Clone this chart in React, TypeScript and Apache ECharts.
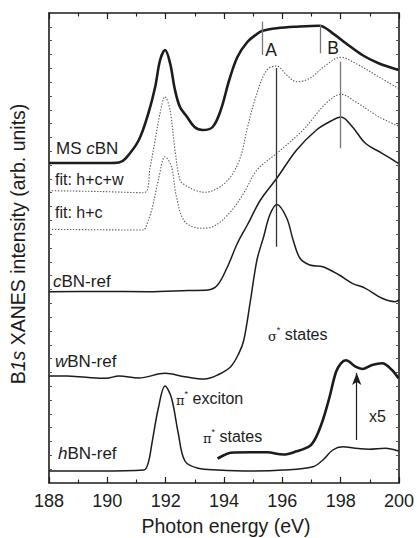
import React, { useEffect, useRef } from "react";
import * as echarts from "echarts";

// Photon energy (eV) / intensity (arb. units, offset spectra)
const msCBN: number[][] = [
  [188.0, 320], [190.0, 320], [190.4, 320.5], [190.63, 324.7], [191.08, 343], [191.41, 370],
  [191.64, 396], [191.81, 423], [191.98, 433], [192.15, 420], [192.32, 393], [192.49, 376],
  [192.71, 367], [192.99, 356], [193.27, 353], [193.61, 356], [193.89, 373], [194.18, 403],
  [194.46, 426], [194.8, 441], [195.13, 449], [195.3, 452], [195.81, 454.7], [196.49, 456.3],
  [197.27, 457.3], [197.73, 449.7], [198.18, 439.7], [198.74, 428], [199.3, 419.7], [199.98, 413],
];

const fitHCW: number[][] = [
  [188.0, 292.3], [189.72, 291.5], [191.25, 290.3], [191.47, 316.3], [191.64, 343], [191.81, 370],
  [191.98, 386.3], [192.15, 373], [192.32, 333], [192.49, 303], [192.66, 298], [192.99, 293],
  [193.33, 290.7], [193.78, 294.7], [194.23, 306.3], [194.57, 326.3], [194.8, 355], [195.13, 389.7],
  [195.47, 413], [195.81, 417], [196.15, 408], [196.49, 401.3], [196.94, 404.7], [197.5, 418],
  [198.01, 425.7], [198.51, 419.7], [199.3, 406.3], [199.98, 394.7],
];

const fitHC: number[][] = [
  [188.0, 253.7], [191.25, 253], [191.3, 254.7], [191.52, 273], [191.75, 303], [191.98, 326.3],
  [192.2, 316.3], [192.37, 286.3], [192.66, 261.3], [193.22, 254.7], [193.67, 257], [194.22, 271],
  [194.68, 290], [195.13, 313], [195.81, 329.7], [196.71, 353], [197.5, 379.7], [198.01, 388.7],
  [198.51, 381.3], [199.3, 366.3], [199.98, 357],
];

const cbnRef: number[][] = [
  [188.0, 191.3], [189.72, 191.5], [191.41, 191.3], [192.77, 192.5], [193.44, 193], [193.78, 198],
  [194.12, 216.3], [194.46, 239.7], [194.8, 258], [195.25, 283], [195.81, 304.7], [196.49, 333],
  [197.17, 353], [197.67, 362], [198.01, 366], [198.4, 356.3], [198.85, 339.7], [199.42, 329.7],
  [199.98, 319.7],
];

const wbnRef: number[][] = [
  [188.0, 107], [188.6, 107], [189.27, 105.7], [189.95, 104.7], [190.4, 107], [191.08, 105],
  [191.98, 109.7], [192.66, 106.3], [193.33, 104], [193.78, 108], [194.23, 116.3], [194.51, 129.7],
  [194.68, 143], [194.91, 183], [195.13, 223], [195.36, 246.3], [195.57, 268], [195.81, 278.5],
  [196.15, 265], [196.37, 243], [196.6, 225], [196.94, 218], [197.39, 216.3], [197.95, 208],
  [198.4, 199.7], [198.85, 194.7], [199.42, 184.7], [199.86, 181.3], [200.0, 183],
];

const hbnRef: number[][] = [
  [188.0, 12], [189.72, 12], [191.25, 13], [191.41, 21], [191.52, 38], [191.75, 75],
  [191.98, 97], [192.2, 85], [192.43, 50], [192.66, 22], [193.11, 14.7], [193.78, 13],
  [194.91, 12], [196.04, 13], [197.05, 16.3], [197.39, 23], [197.73, 33], [198.07, 36.3],
  [198.51, 34.7], [198.97, 33.7], [199.53, 34.7], [199.98, 32],
];

const hbnX5: number[][] = [
  [193.78, 24.5], [194.01, 28], [194.23, 30.3], [194.91, 30.7], [195.47, 30.7], [196.04, 28.5],
  [196.49, 31.7], [196.94, 37], [197.16, 46], [197.39, 63], [197.61, 85], [197.84, 111],
  [198.01, 119.7], [198.18, 122.7], [198.51, 116.3], [198.74, 114], [199.08, 118], [199.42, 119.7],
  [199.76, 113], [199.98, 104.7],
];

// annotation lines: [x, y0, y1]
const markA: number[] = [195.3, 428, 461.3];
const markB: number[] = [197.3, 429.7, 458];
const lineA: number[] = [195.79, 236.3, 415];
const lineB: number[] = [197.99, 334.7, 421.3];
const arrowX5: number[] = [198.55, 43, 110];

const X_MIN = 188;
const X_MAX = 200;
const Y_MAX = 470;

const FONT = "Liberation Sans, Arial, sans-serif";
const SERIF = "DejaVu Serif, serif";
const INK = "#1c1c1c";

function vline(v: number[], color: string, width: number, arrow = false) {
  return {
    animation: false,
    symbol: arrow ? ["none", "arrow"] : ["none", "none"],
    symbolSize: arrow ? [7, 12] : 0,
    lineStyle: { color, width, type: "solid" },
    label: { show: false },
    emphasis: { disabled: true },
    data: [[{ coord: [v[0], v[1]] }, { coord: [v[0], v[2]] }]],
  };
}

export default function App() {
  const ref = useRef<HTMLDivElement>(null);

  useEffect(() => {
    if (!ref.current) return;
    const chart = echarts.init(ref.current, undefined, { renderer: "svg" });

    const axisCommon = {
      type: "value" as const,
      min: X_MIN,
      max: X_MAX,
      interval: 2,
      axisLine: { show: true, onZero: false, lineStyle: { color: INK, width: 1.6 } },
      axisTick: { show: true, inside: true, length: 6, lineStyle: { color: INK, width: 1.2 } },
      minorTick: { show: true, splitNumber: 2, length: 3.5, lineStyle: { color: INK, width: 1.1 } },
      splitLine: { show: false },
    };
    const yCommon = {
      type: "value" as const,
      min: 0,
      max: Y_MAX,
      interval: Y_MAX / 34,
      axisLine: { show: true, onZero: false, lineStyle: { color: INK, width: 1.6 } },
      axisTick: { show: true, inside: true, length: 3, lineStyle: { color: "#555", width: 1 } },
      axisLabel: { show: false },
      splitLine: { show: false },
    };

    const mkLine = (data: number[][], width: number, dotted = false) => ({
      type: "line",
      data,
      showSymbol: false,
      smooth: 0.35,
      silent: true,
      lineStyle: dotted
        ? { color: "#5a5a5a", width: 1.1, type: [1.4, 1.6] }
        : { color: INK, width },
      z: 3,
    });

    const text = (x: number, y: number, t: string, size: number, opts: any = {}) => ({
      type: "text",
      x,
      y,
      silent: true,
      style: {
        text: t,
        fontSize: size,
        fontFamily: FONT,
        fill: INK,
        textVerticalAlign: "middle",
        ...opts,
      },
    });

    const richLabel = (x: number, y: number, italic: string, rest: string, pre = "") => ({
      type: "text",
      x,
      y,
      silent: true,
      style: {
        text: (pre ? `{n|${pre}}` : "") + `{i|${italic}}{n|${rest}}`,
        textVerticalAlign: "middle",
        rich: {
          n: { fontSize: 17, fontFamily: FONT, fill: INK },
          i: { fontSize: 17, fontFamily: FONT, fontStyle: "italic", fill: INK },
        },
      },
    });

    // Greek letter + superscript asterisk + words, in one text element
    const stateLabel = (x: number, y: number, greek: string, words: string) => ({
      type: "text",
      x,
      y,
      silent: true,
      style: {
        text: `{g|${greek}}{s|*}{n| ${words}}`,
        textVerticalAlign: "middle",
        rich: {
          g: { fontSize: 13, fontFamily: SERIF, fill: INK, verticalAlign: "bottom", lineHeight: 18 },
          s: { fontSize: 9, fontFamily: FONT, fill: INK, verticalAlign: "top", lineHeight: 18 },
          n: { fontSize: 16, fontFamily: FONT, fill: INK, verticalAlign: "middle", lineHeight: 18 },
        },
      },
    });

    chart.setOption({
      animation: false,
      grid: { left: 49, right: 13, top: 13, bottom: 55, containLabel: false },
      xAxis: [
        {
          ...axisCommon,
          position: "bottom",
          axisLabel: { show: true, fontSize: 18, fontFamily: FONT, color: INK, margin: 9 },
        },
        { ...axisCommon, position: "top", axisLabel: { show: false } },
      ],
      yAxis: [
        { ...yCommon, position: "left" },
        { ...yCommon, position: "right" },
      ],
      series: [
        mkLine(msCBN, 2.6),
        mkLine(fitHCW, 1.1, true),
        mkLine(fitHC, 1.1, true),
        mkLine(cbnRef, 1.5),
        mkLine(wbnRef, 1.5),
        mkLine(hbnRef, 1.5),
        mkLine(hbnX5, 2.6),
        { type: "line", data: [], silent: true, markLine: vline(markA, "#777", 1.3) },
        { type: "line", data: [], silent: true, markLine: vline(markB, "#777", 1.3) },
        { type: "line", data: [], silent: true, markLine: vline(lineA, "#333", 1.3) },
        { type: "line", data: [], silent: true, markLine: vline(lineB, "#777", 1.3) },
        { type: "line", data: [], silent: true, markLine: vline(arrowX5, INK, 1.2, true) },
      ],
      graphic: [
        text(226, 526, "Photon energy (eV)", 19.5, { textAlign: "center" }),
        {
          type: "text",
          x: 18,
          y: 244,
          rotation: Math.PI / 2,
          silent: true,
          style: {
            text: "{n|B}{i|1s}{n| XANES intensity (arb. units)}",
            textAlign: "center",
            textVerticalAlign: "middle",
            rich: {
              n: { fontSize: 19.5, fontFamily: FONT, fill: INK },
              i: { fontSize: 19.5, fontFamily: FONT, fontStyle: "italic", fill: INK },
            },
          },
        },
        richLabel(56, 148, "c", "BN", "MS "),
        text(55, 179, "fit: h+c+w", 16),
        text(55, 212, "fit: h+c", 16),
        richLabel(53, 281, "c", "BN-ref"),
        richLabel(55, 361, "w", "BN-ref"),
        richLabel(58, 453, "h", "BN-ref"),
        text(271, 50, "A", 17.5, { textAlign: "center" }),
        text(333, 48, "B", 17.5, { textAlign: "center" }),
        stateLabel(268, 334, "σ", "states"),
        stateLabel(176, 398, "π", "exciton"),
        stateLabel(203, 436, "π", "states"),
        text(369, 416, "x5", 16),
      ],
    });

    return () => chart.dispose();
  }, []);

  return (
    <div
      ref={ref}
      style={{ position: "fixed", left: 0, top: 0, width: 417, height: 538, background: "#fff" }}
    />
  );
}
